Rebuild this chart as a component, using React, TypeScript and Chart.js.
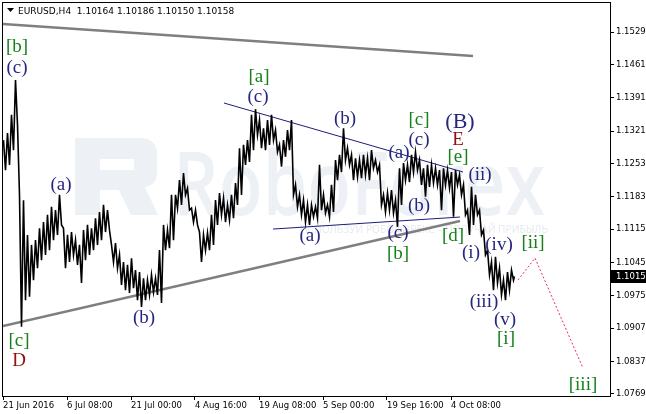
import { useEffect, useRef } from "react";
import { Chart, registerables } from "chart.js";

Chart.register(...registerables);

// Instrument header
const symbolTitle = "EURUSD,H4";
const quoteValues = ["1.10164", "1.10186", "1.10150", "1.10158"];
const lastPrice = 1.10158;

// Time axis: bar numbers carrying a date label, and the labels themselves
const timeTickBars = [1, 65, 129, 193, 257, 321, 385, 449];
const timeLabels = [
  "21 Jun 2016",
  "6 Jul 08:00",
  "21 Jul 00:00",
  "4 Aug 16:00",
  "19 Aug 08:00",
  "5 Sep 00:00",
  "19 Sep 16:00",
  "4 Oct 08:00",
];

// Price axis
const priceTicks = [
  1.1529, 1.1461, 1.1391, 1.1321, 1.1253, 1.1183, 1.1115, 1.1045, 1.0975, 1.0907, 1.0837, 1.0769,
];
const priceMin = 1.07648;
const priceMax = 1.15899;
const barsShown = 608;

// H4 price range, grouped four bars at a time (high / low of each group)
const groupHighs = [
  1.1302, 1.1317, 1.1355, 1.1428, 1.1187, 1.1176, 1.1103, 1.1082, 1.1092, 1.1117,
  1.113, 1.1145, 1.1162, 1.1155, 1.1187, 1.1117, 1.1103, 1.1109, 1.1092, 1.1082,
  1.1113, 1.1124, 1.1117, 1.1138, 1.1151, 1.1166, 1.1155, 1.1082, 1.1086, 1.1061,
  1.1046, 1.104, 1.1054, 1.1029, 1.1025, 1.1012, 1.1008, 1.1019, 1.1012, 1.1071,
  1.1124, 1.1113, 1.1187, 1.1187, 1.1218, 1.1233, 1.1201, 1.1159, 1.1155, 1.1109,
  1.1103, 1.1107, 1.1145, 1.1176, 1.1191, 1.118, 1.1166, 1.1187, 1.1212, 1.1285,
  1.1292, 1.1302, 1.1355, 1.1367, 1.1344, 1.1327, 1.1344, 1.1355, 1.1323, 1.1292,
  1.1302, 1.1323, 1.1344, 1.1208, 1.1187, 1.1176, 1.1166, 1.1166, 1.1162, 1.125,
  1.1187, 1.1166, 1.1208, 1.126, 1.1271, 1.1327, 1.1285, 1.1271, 1.1264, 1.126,
  1.1271, 1.1264, 1.1281, 1.126, 1.125, 1.1187, 1.1191, 1.1197, 1.1176, 1.1243,
  1.1254, 1.125, 1.1271, 1.1277, 1.126, 1.1243, 1.125, 1.125, 1.1243, 1.1239,
  1.1243, 1.1239, 1.1235, 1.1239, 1.1229, 1.1208, 1.1155, 1.1204, 1.1187, 1.1155,
  1.1113, 1.1071, 1.1046, 1.1057, 1.1033, 1.1008, 1.1025, 1.1029,
];
const groupLows = [
  1.1239, 1.125, 1.1281, 1.1334, 1.091, 1.0966, 1.0973, 1.1008, 1.1033, 1.105,
  1.1061, 1.1071, 1.1092, 1.1103, 1.1124, 1.1033, 1.1046, 1.1061, 1.104, 1.1002,
  1.105, 1.1061, 1.1071, 1.1082, 1.1092, 1.1109, 1.1113, 1.1046, 1.1033, 1.0998,
  1.0987, 1.0981, 1.0991, 1.0966, 1.0952, 1.0966, 1.0977, 1.0983, 1.0977, 1.096,
  1.1071, 1.1075, 1.1092, 1.1159, 1.1166, 1.1187, 1.1155, 1.113, 1.1124, 1.1046,
  1.1071, 1.1071, 1.1082, 1.1124, 1.1145, 1.113, 1.1134, 1.1138, 1.1166, 1.1187,
  1.125, 1.1256, 1.1281, 1.1313, 1.1285, 1.1281, 1.1292, 1.1302, 1.1277, 1.1246,
  1.1267, 1.1281, 1.1187, 1.1162, 1.1145, 1.113, 1.1124, 1.1141, 1.1138, 1.1155,
  1.1149, 1.1141, 1.1151, 1.1218, 1.1235, 1.126, 1.125, 1.1218, 1.1225, 1.1222,
  1.1229, 1.1218, 1.1243, 1.1235, 1.1166, 1.1151, 1.1155, 1.1149, 1.112, 1.1166,
  1.1218, 1.1214, 1.1235, 1.1239, 1.1208, 1.1183, 1.1204, 1.1212, 1.1208, 1.1155,
  1.1208, 1.1201, 1.1141, 1.1208, 1.1187, 1.1145, 1.1103, 1.1124, 1.1145, 1.1103,
  1.1061, 1.1019, 1.0987, 1.1002, 1.0977, 1.0966, 1.0987, 1.1008,
];

// Trend lines: [bar, price] end points
const outerTop = [
  [1, 1.15458],
  [471, 1.14786],
];
const outerBase = [
  [1, 1.09116],
  [458, 1.11321],
];
const triangleTop = [
  [222, 1.13799],
  [461, 1.1235],
];
const triangleBase = [
  [271, 1.11153],
  [458, 1.11405],
];
const forecastPath = [
  [516, 1.10082],
  [533, 1.10544],
  [581, 1.08234],
];

// Elliott wave marks: text, bar, price, wave degree
const waveMarks: [string, number, number, string][] = [
  ["[b]", 15, 1.14975, "minute"],
  ["(c)", 15, 1.14534, "minor"],
  ["(a)", 59, 1.12077, "minor"],
  ["(b)", 142, 1.09284, "minor"],
  ["[c]", 17, 1.08801, "minute"],
  ["D", 17, 1.08381, "intermediate"],
  ["[a]", 257, 1.14345, "minute"],
  ["(c)", 256, 1.13925, "minor"],
  ["(b)", 343, 1.13463, "minor"],
  ["(a)", 308, 1.11006, "minor"],
  ["[c]", 417, 1.13442, "minute"],
  ["(B)", 458, 1.134, "primary"],
  ["(c)", 417, 1.13022, "minor"],
  ["E", 456, 1.13022, "intermediate"],
  ["(a)", 397, 1.12749, "minor"],
  ["[e]", 456, 1.12665, "minute"],
  ["(ii)", 478, 1.12287, "minor"],
  ["(b)", 417, 1.11636, "minor"],
  ["(c)", 396, 1.11069, "minor"],
  ["[d]", 451, 1.11006, "minute"],
  ["[b]", 396, 1.10628, "minute"],
  ["(i)", 469, 1.10649, "minor"],
  ["(iv)", 497, 1.10817, "minor"],
  ["[ii]", 531, 1.10859, "minute"],
  ["(iii)", 482, 1.0962, "minor"],
  ["(v)", 503, 1.09242, "minor"],
  ["[i]", 504, 1.08843, "minute"],
  ["[iii]", 581, 1.07877, "minute"],
];

const degreeStyle: Record<string, { color: string; size: number }> = {
  minor: { color: "#26267f", size: 19 },
  minute: { color: "#16801a", size: 19 },
  intermediate: { color: "#8e1010", size: 19 },
  primary: { color: "#26267f", size: 22 },
};

const axisFont = { family: "'DejaVu Sans', sans-serif", size: 8.5 };

const toPoints = (pairs: number[][]) => pairs.map(([x, y]) => ({ x, y }));

const decorPlugin = {
  id: "decor",
  beforeDatasetsDraw(chart: any) {
    const { ctx, chartArea } = chart;
    ctx.save();
    ctx.beginPath();
    ctx.rect(chartArea.left, chartArea.top, chartArea.right - chartArea.left, chartArea.bottom - chartArea.top);
    ctx.clip();
    ctx.fillStyle = "#edf0f4";
    // logo mark
    ctx.beginPath();
    ctx.moveTo(75, 138);
    ctx.lineTo(140, 138);
    ctx.quadraticCurveTo(157, 138, 157, 155);
    ctx.lineTo(157, 172);
    ctx.quadraticCurveTo(157, 185, 145, 187);
    ctx.lineTo(158, 215);
    ctx.lineTo(131, 215);
    ctx.lineTo(119, 190);
    ctx.lineTo(100, 190);
    ctx.lineTo(100, 215);
    ctx.lineTo(75, 215);
    ctx.closePath();
    ctx.moveTo(100, 159);
    ctx.lineTo(100, 170);
    ctx.lineTo(134, 170);
    ctx.lineTo(134, 159);
    ctx.closePath();
    ctx.fill("evenodd");
    // brand name
    ctx.font = "600 88px 'Open Sans', sans-serif";
    ctx.textBaseline = "alphabetic";
    ctx.textAlign = "left";
    const w = ctx.measureText("RoboForex").width;
    ctx.save();
    ctx.translate(173, 215);
    ctx.scale(372 / w, 1);
    ctx.fillText("RoboForex", 0, 0);
    ctx.restore();
    ctx.fillStyle = "#e6e9ee";
    ctx.font = "11px 'Open Sans', sans-serif";
    const slogan = "ИСПОЛЬЗУЙ РОБОФОРЕКС – ПОЛУЧАЙ ПРИБЫЛЬ";
    const sw = ctx.measureText(slogan).width;
    ctx.translate(300, 233);
    ctx.scale(248 / sw, 1);
    ctx.fillText(slogan, 0, 0);
    ctx.restore();
  },
  afterDatasetsDraw(chart: any) {
    const { ctx, scales } = chart;
    ctx.save();
    ctx.textAlign = "center";
    ctx.textBaseline = "middle";
    for (const [text, bar, price, degree] of waveMarks) {
      const st = degreeStyle[degree];
      ctx.font = `${st.size}px 'Liberation Serif', serif`;
      ctx.fillStyle = st.color;
      ctx.fillText(text, scales.x.getPixelForValue(bar), scales.y.getPixelForValue(price));
    }
    ctx.restore();
  },
  afterDraw(chart: any) {
    const { ctx, chartArea, scales } = chart;
    ctx.save();
    // frame
    ctx.strokeStyle = "#000";
    ctx.lineWidth = 1;
    ctx.strokeRect(chartArea.left - 0.5, chartArea.top - 0.5, chartArea.right - chartArea.left + 1, chartArea.bottom - chartArea.top + 1);
    // header
    ctx.fillStyle = "#000";
    ctx.beginPath();
    ctx.moveTo(7, 8);
    ctx.lineTo(14, 8);
    ctx.lineTo(10.5, 12);
    ctx.closePath();
    ctx.fill();
    ctx.font = "9px 'DejaVu Sans', sans-serif";
    ctx.textBaseline = "alphabetic";
    ctx.textAlign = "left";
    ctx.fillText(`${symbolTitle}  ${quoteValues.join(" ")}`, 18, 14);
    // last price marker
    const y = Math.round(scales.y.getPixelForValue(lastPrice));
    ctx.fillRect(chartArea.right + 1, y - 6, 40, 13);
    ctx.fillStyle = "#fff";
    ctx.font = "8.5px 'DejaVu Sans', sans-serif";
    ctx.textBaseline = "middle";
    ctx.fillText(lastPrice.toFixed(5), chartArea.right + 6, y + 0.5);
    ctx.restore();
  },
};

export default function App() {
  const ref = useRef<HTMLCanvasElement>(null);

  useEffect(() => {
    document.body.style.margin = "0";
    const canvas = ref.current;
    if (!canvas) return;

    const pricePoints: { x: number; y: number }[] = [];
    groupHighs.forEach((hi, i) => {
      pricePoints.push({ x: i * 4 + 1.5, y: hi });
      pricePoints.push({ x: i * 4 + 3.5, y: groupLows[i] });
    });
    pricePoints.push({ x: groupHighs.length * 4 + 0.5, y: lastPrice });

    const lineBase = { pointRadius: 0, tension: 0, fill: false };

    const chart = new Chart(canvas, {
      type: "line",
      data: {
        datasets: [
          { ...lineBase, data: pricePoints, borderColor: "#000", borderWidth: 1.6, borderJoinStyle: "miter" },
          { ...lineBase, data: toPoints(triangleTop), borderColor: "#1c1c7c", borderWidth: 1 },
          { ...lineBase, data: toPoints(triangleBase), borderColor: "#1c1c7c", borderWidth: 1 },
          { ...lineBase, data: toPoints(outerTop), borderColor: "#7f7f7f", borderWidth: 2.5 },
          { ...lineBase, data: toPoints(outerBase), borderColor: "#7f7f7f", borderWidth: 2.5 },
          { ...lineBase, data: toPoints(forecastPath), borderColor: "#e8305a", borderWidth: 1, borderDash: [2, 2] },
        ],
      },
      options: {
        animation: false,
        responsive: false,
        events: [],
        layout: { padding: { left: 3, top: 3, right: 0, bottom: 0 } },
        plugins: { legend: { display: false }, tooltip: { enabled: false } },
        scales: {
          x: {
            type: "linear",
            min: 1,
            max: barsShown,
            afterBuildTicks: (s: any) => {
              s.ticks = timeTickBars.map((v) => ({ value: v }));
            },
            afterFit: (s: any) => {
              s.height = 18;
              s.paddingLeft = 0;
              s.paddingRight = 0;
            },
            ticks: {
              autoSkip: false,
              maxRotation: 0,
              minRotation: 0,
              align: "start",
              padding: 1,
              color: "#000",
              font: axisFont,
              callback: (_v: any, i: number) => timeLabels[i] ?? "",
            },
            grid: { drawOnChartArea: false, drawTicks: true, tickLength: 4, color: "#000" },
            border: { display: false },
          },
          y: {
            type: "linear",
            position: "right",
            min: priceMin,
            max: priceMax,
            afterBuildTicks: (s: any) => {
              s.ticks = priceTicks.map((v) => ({ value: v }));
            },
            afterFit: (s: any) => {
              s.width = 36;
              s.paddingTop = 0;
              s.paddingBottom = 0;
            },
            ticks: {
              padding: 2,
              color: "#000",
              font: axisFont,
              callback: (v: any) => Number(v).toFixed(5),
            },
            grid: { drawOnChartArea: false, drawTicks: true, tickLength: 4, color: "#000" },
            border: { display: false },
          },
        },
      },
      plugins: [decorPlugin],
    });

    return () => chart.destroy();
  }, []);

  return <canvas ref={ref} width={646} height={414} style={{ display: "block" }} />;
}
